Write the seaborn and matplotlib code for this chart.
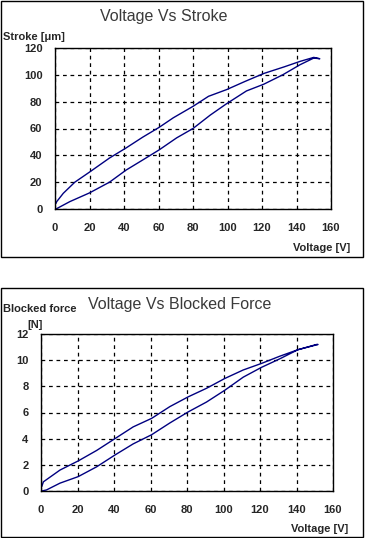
import numpy as np
import pandas as pd
import seaborn as sns
import matplotlib.pyplot as plt
from matplotlib.patches import Rectangle

# ---------------- data ----------------
# stroke loop: rising branch then falling branch
stroke_up_v = [0, 1, 8.6, 20, 31.6, 41.2, 50.8, 60.3, 70.5, 80, 90, 99.5, 111, 121, 132, 142, 150, 153.5]
stroke_up_s = [0, 0.3, 5.5, 12, 20, 29, 36.5, 44, 53, 60, 70, 78.5, 88, 93, 100, 107.5, 112.5, 112]
stroke_dn_v = [153.5, 150, 142, 133, 121, 110, 99.5, 89, 80, 68.6, 60.3, 50.8, 41.2, 31.6, 20, 11.5, 4.8, 1, 0.5]
stroke_dn_s = [112, 113, 110, 106, 101, 95, 89, 84, 76.5, 68, 60.8, 53.5, 45.5, 38, 27.5, 20, 11.7, 5.5, 4]

# blocked force loop
force_up_v = [0.4, 3, 10.4, 20.4, 30.5, 40.5, 50.5, 60.6, 70.6, 80.7, 90.7, 100.7, 110.8, 120.8, 130.8, 140.8, 151]
force_up_f = [0, 0.08, 0.6, 1.1, 1.85, 2.75, 3.6, 4.3, 5.2, 6.05, 6.8, 7.7, 8.7, 9.45, 10.1, 10.8, 11.2]
force_dn_v = [151.8, 140.8, 130.8, 120.8, 110.8, 100.7, 90.7, 80.7, 70.6, 60.6, 50.5, 40.5, 30.5, 20.4, 10.4, 1.3, 0.4]
force_dn_f = [11.2, 10.8, 10.3, 9.75, 9.25, 8.6, 7.85, 7.2, 6.45, 5.55, 4.9, 4.0, 3.1, 2.3, 1.6, 0.7, 0.33]

x_ticks = [0, 20, 40, 60, 80, 100, 120, 140, 160]

d1 = pd.DataFrame({'Voltage': stroke_up_v + stroke_dn_v, 'Stroke': stroke_up_s + stroke_dn_s})
d2 = pd.DataFrame({'Voltage': force_up_v + force_dn_v, 'Force': force_up_f + force_dn_f})

sns.set_style("white")
plt.rcParams['font.family'] = ['Liberation Sans', 'DejaVu Sans']

W, H = 365, 538
fig = plt.figure(figsize=(W / 100, H / 100), dpi=100)


def fx(px):
    return px / W


def fy(py):
    return 1 - py / H


# panel frames
fig.patches.append(Rectangle((fx(1), fy(257)), fx(362), 256 / H, transform=fig.transFigure,
                             fill=False, edgecolor='black', linewidth=1))
fig.patches.append(Rectangle((fx(1), fy(537)), fx(362), 249 / H, transform=fig.transFigure,
                             fill=False, edgecolor='black', linewidth=1))

navy = '#000080'


def style_ax(ax, xpad, ypad):
    ax.set_xlim(0, 160)
    ax.set_xticks(x_ticks)
    ax.grid(True, color='black', linestyle=(0, (3, 3)), linewidth=0.9)
    for s in ax.spines.values():
        s.set_visible(True)
        s.set_color('black')
        s.set_linewidth(1)
    ax.tick_params(axis='x', length=0, pad=xpad, labelsize=8)
    ax.tick_params(axis='y', length=0, pad=ypad, labelsize=8)
    for lab in ax.get_xticklabels() + ax.get_yticklabels():
        lab.set_fontweight('bold')
    ax.set_xlabel('')
    ax.set_ylabel('')


############ Voltage Vs Stroke ############
ax1 = fig.add_axes([fx(55), fy(209), fx(276), 161 / H])
sns.lineplot(data=d1, x='Voltage', y='Stroke', sort=False, estimator=None,
             color=navy, linewidth=1, ax=ax1)
ax1.set_ylim(0, 120)
ax1.set_yticks([0, 20, 40, 60, 80, 100, 120])
style_ax(ax1, 10, 9)
fig.text(fx(164), fy(16), 'Voltage Vs Stroke', ha='center', va='center', fontsize=11.5, color='#3a3a3a')
fig.text(fx(3), fy(37), 'Stroke [\u03bcm]', ha='left', va='center', fontsize=8, fontweight='bold')
fig.text(fx(350), fy(248), 'Voltage [V]', ha='right', va='center', fontsize=8, fontweight='bold')

############ Voltage Vs Blocked Force ############
ax2 = fig.add_axes([fx(41), fy(491), fx(292), 157 / H])
sns.lineplot(data=d2, x='Voltage', y='Force', sort=False, estimator=None,
             color=navy, linewidth=1, ax=ax2)
ax2.set_ylim(0, 12)
ax2.set_yticks([0, 2, 4, 6, 8, 10, 12])
style_ax(ax2, 10, 9)
fig.text(fx(180), fy(304), 'Voltage Vs Blocked Force', ha='center', va='center', fontsize=11.5, color='#3a3a3a')
fig.text(fx(3), fy(309), 'Blocked force', ha='left', va='center', fontsize=8, fontweight='bold')
fig.text(fx(27), fy(325), '[N]', ha='left', va='center', fontsize=8, fontweight='bold')
fig.text(fx(348), fy(529), 'Voltage [V]', ha='right', va='center', fontsize=8, fontweight='bold')

plt.savefig('out.png', dpi=100)
